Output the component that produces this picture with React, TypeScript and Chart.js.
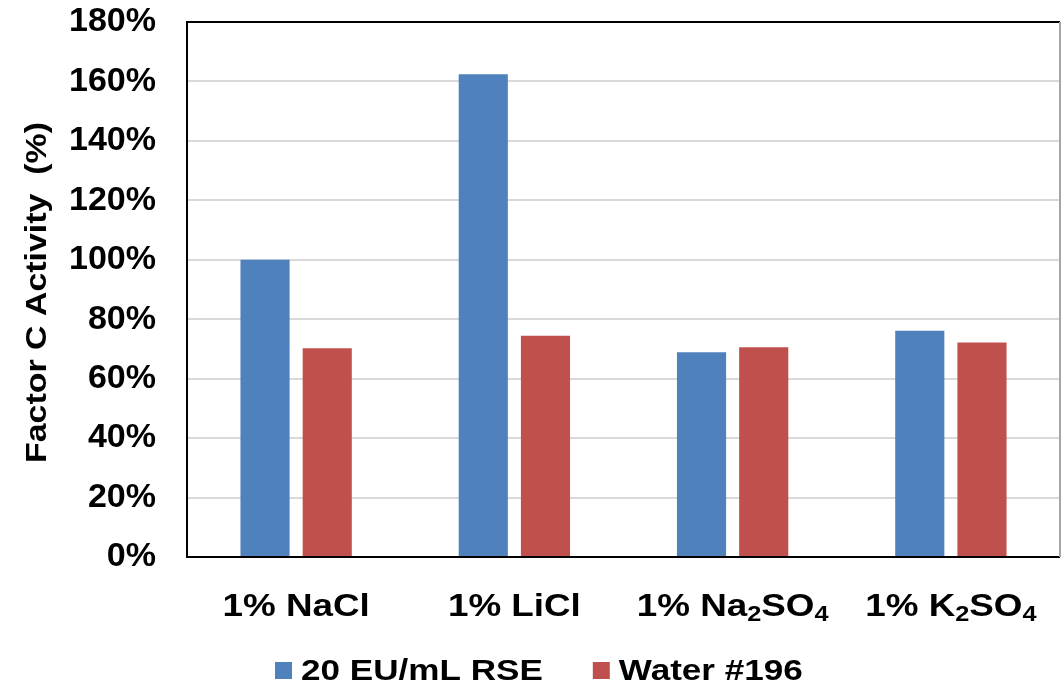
import React, { useEffect, useRef } from "react";
import { Chart, registerables } from "chart.js";

Chart.register(...registerables);

// Salt conditions; "_n" marks a subscript digit in the chemical formula
const categories = ["1% NaCl", "1% LiCl", "1% Na_2SO_4", "1% K_2SO_4"];
const seriesNames = ["20 EU/mL RSE", "Water #196"];
const rseActivity = [100, 162.4, 68.9, 76.1];
const waterActivity = [70.2, 74.4, 70.6, 72.2];
const seriesColors = ["#4F81BD", "#C0504D"];
const yMin = 0;
const yMax = 180;
const yStep = 20;
const yAxisTitle = "Factor C Activity  (%)";

const FONT = '"Liberation Sans", Arial, Helvetica, sans-serif';

// Split a label into [text, isSubscript] runs
function labelRuns(label: string): [string, boolean][] {
  const parts = label.split(/_(\d)/);
  return parts.map((p, i) => [p, i % 2 === 1] as [string, boolean]).filter((r) => r[0].length > 0);
}

const textPlugin = {
  id: "customText",
  afterDatasetsDraw(chart: any) {
    const { ctx, chartArea } = chart;
    const { left, right, top, bottom } = chartArea;

    // plot frame
    ctx.save();
    ctx.lineWidth = 2;
    ctx.strokeStyle = "#000";
    ctx.beginPath();
    ctx.moveTo(right, top);
    ctx.lineTo(left, top);
    ctx.lineTo(left, bottom);
    ctx.lineTo(right, bottom);
    ctx.stroke();
    ctx.strokeStyle = "#a6a6a6";
    ctx.beginPath();
    ctx.moveTo(right, top);
    ctx.lineTo(right, bottom);
    ctx.stroke();
    ctx.restore();
  },
  afterDraw(chart: any) {
    const { ctx, chartArea } = chart;
    const xScale = chart.scales.x;

    // category labels with subscripts
    const mainFont = `bold 32px ${FONT}`;
    const subFont = `bold 22px ${FONT}`;
    const sx = 1.15;
    const baseline = 616;
    ctx.save();
    ctx.fillStyle = "#000";
    ctx.textBaseline = "alphabetic";
    ctx.textAlign = "left";
    categories.forEach((label, i) => {
      const runs = labelRuns(label);
      let w = 0;
      runs.forEach(([t, sub]) => {
        ctx.font = sub ? subFont : mainFont;
        w += ctx.measureText(t).width;
      });
      const cx = xScale.getPixelForValue(i);
      ctx.save();
      ctx.translate(cx - (w * sx) / 2, baseline);
      ctx.scale(sx, 1);
      let x = 0;
      runs.forEach(([t, sub]) => {
        ctx.font = sub ? subFont : mainFont;
        ctx.fillText(t, x, sub ? 5 : 0);
        x += ctx.measureText(t).width;
      });
      ctx.restore();
    });
    ctx.restore();

    // y axis title, rotated
    ctx.save();
    ctx.fillStyle = "#000";
    ctx.font = `bold 30px ${FONT}`;
    ctx.textAlign = "center";
    ctx.textBaseline = "alphabetic";
    ctx.translate(46, (chartArea.top + chartArea.bottom) / 2 + 3);
    ctx.rotate(-Math.PI / 2);
    ctx.scale(1.13, 1);
    ctx.fillText(yAxisTitle, 0, 0);
    ctx.restore();

    // legend
    const legendFont = `bold 29px ${FONT}`;
    const lsx = 1.21;
    const box = 17;
    const legendBaseline = 680;
    let lx = 275;
    ctx.save();
    ctx.font = legendFont;
    ctx.textAlign = "left";
    ctx.textBaseline = "alphabetic";
    seriesNames.forEach((name, i) => {
      ctx.fillStyle = seriesColors[i];
      ctx.fillRect(lx, 662, box, box);
      const tx = lx + 26;
      ctx.fillStyle = "#000";
      ctx.save();
      ctx.translate(tx, legendBaseline);
      ctx.scale(lsx, 1);
      ctx.fillText(name, 0, 0);
      ctx.restore();
      lx = tx + ctx.measureText(name).width * lsx + 50;
    });
    ctx.restore();
  },
};

export default function App() {
  const canvasRef = useRef<HTMLCanvasElement | null>(null);

  useEffect(() => {
    if (!canvasRef.current) return;
    const chart = new Chart(canvasRef.current, {
      type: "bar",
      data: {
        labels: categories,
        datasets: [
          {
            label: seriesNames[0],
            data: rseActivity,
            backgroundColor: seriesColors[0],
            borderWidth: 0,
            categoryPercentage: 0.57,
            barPercentage: 0.79,
          },
          {
            label: seriesNames[1],
            data: waterActivity,
            backgroundColor: seriesColors[1],
            borderWidth: 0,
            categoryPercentage: 0.57,
            barPercentage: 0.79,
          },
        ],
      },
      options: {
        animation: false,
        responsive: true,
        maintainAspectRatio: false,
        layout: { padding: { top: 22, right: 1, bottom: 130, left: 0 } },
        plugins: {
          legend: { display: false },
          tooltip: { enabled: false },
        },
        scales: {
          x: {
            grid: { display: false },
            border: { display: false },
            ticks: { display: false },
            afterFit: (scale: any) => {
              scale.height = 0;
              scale.paddingLeft = 0;
              scale.paddingRight = 0;
            },
          },
          y: {
            min: yMin,
            max: yMax,
            grid: { color: "#d9d9d9", lineWidth: 2, drawTicks: false },
            border: { display: false },
            ticks: {
              stepSize: yStep,
              padding: 31,
              color: "#000",
              font: { family: FONT, size: 34, weight: "bold" },
              callback: (v: any) => `${v}%`,
            },
            afterFit: (scale: any) => {
              scale.width = 187;
              scale.paddingTop = 0;
              scale.paddingBottom = 0;
            },
          },
        },
      },
      plugins: [textPlugin],
    });
    return () => chart.destroy();
  }, []);

  return (
    <div style={{ position: "absolute", left: 0, top: 0, width: 1061, height: 687, background: "#fff" }}>
      <canvas ref={canvasRef} />
    </div>
  );
}
